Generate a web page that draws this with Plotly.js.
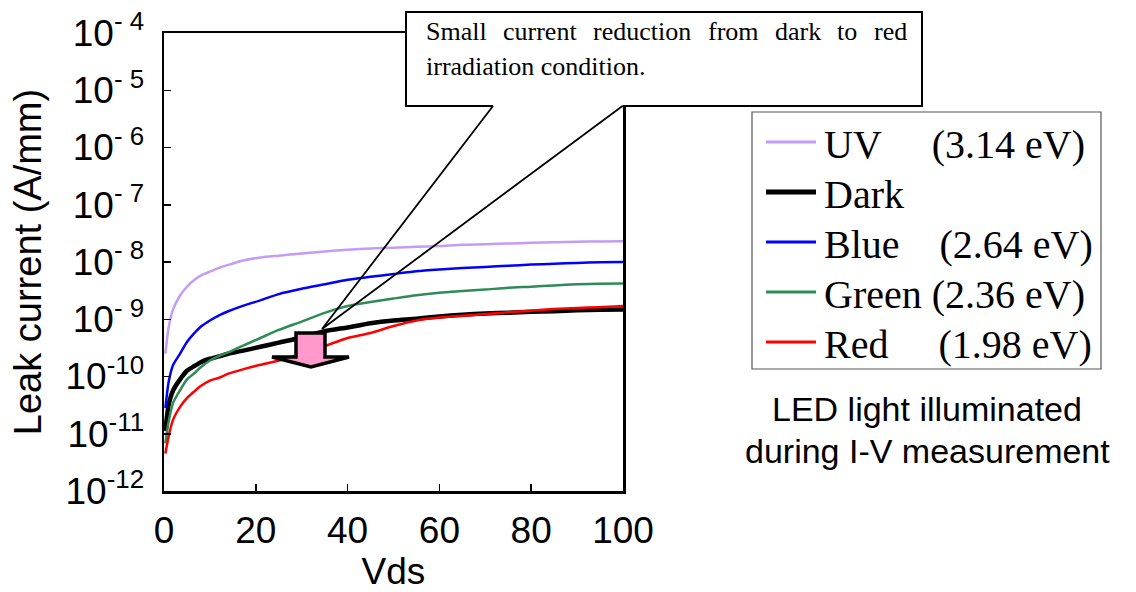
<!DOCTYPE html>
<html><head><meta charset="utf-8">
<script src="https://cdn.plot.ly/plotly-3.0.1.min.js"></script>
<style>html,body{margin:0;padding:0;background:#fff}</style>
</head><body><div id="chart" style="width:1136px;height:592px"></div>
<script>
// ---- data ----
const vds = [0.3, 1, 2, 3.5, 5, 6.5, 8, 10, 12, 14, 17, 21, 25, 30, 35, 40, 45, 50, 55, 60, 65, 70, 75, 80, 85, 90, 95, 100];
const uvCurrent = [2.5e-10, 7.1e-10, 1.5e-9, 2.6e-9, 3.7e-9, 4.8e-9, 5.8e-9, 6.8e-9, 7.9e-9, 8.9e-9, 1.05e-8, 1.2e-8, 1.29e-8, 1.41e-8, 1.53e-8, 1.64e-8, 1.72e-8, 1.78e-8, 1.84e-8, 1.9e-8, 2.0e-8, 2.04e-8, 2.11e-8, 2.16e-8, 2.21e-8, 2.26e-8, 2.29e-8, 2.3e-8];
const darkCurrent = [1.12e-11, 3.16e-11, 5.75e-11, 8.9e-11, 1.26e-10, 1.5e-10, 1.78e-10, 2.04e-10, 2.24e-10, 2.5e-10, 2.8e-10, 3.3e-10, 3.9e-10, 4.8e-10, 6.2e-10, 7.2e-10, 8.5e-10, 9.5e-10, 1.02e-9, 1.12e-9, 1.2e-9, 1.26e-9, 1.3e-9, 1.35e-9, 1.38e-9, 1.43e-9, 1.46e-9, 1.48e-9];
const blueCurrent = [2.8e-11, 7.9e-11, 1.6e-10, 2.5e-10, 4.0e-10, 5.6e-10, 7.4e-10, 9.5e-10, 1.17e-9, 1.38e-9, 1.7e-9, 2.14e-9, 2.75e-9, 3.4e-9, 4.07e-9, 4.9e-9, 5.5e-9, 6.17e-9, 6.9e-9, 7.4e-9, 7.85e-9, 8.2e-9, 8.6e-9, 9.0e-9, 9.3e-9, 9.65e-9, 9.9e-9, 1.0e-8];
const greenCurrent = [6.8e-12, 1.6e-11, 3.5e-11, 5.75e-11, 8.9e-11, 1.12e-10, 1.45e-10, 1.9e-10, 2.3e-10, 2.63e-10, 3.4e-10, 4.7e-10, 6.5e-10, 9.1e-10, 1.29e-9, 1.7e-9, 2.0e-9, 2.3e-9, 2.63e-9, 2.9e-9, 3.1e-9, 3.3e-9, 3.55e-9, 3.7e-9, 3.9e-9, 4.07e-9, 4.17e-9, 4.2e-9];
const redCurrent = [4.5e-12, 8.9e-12, 1.78e-11, 2.95e-11, 4.2e-11, 5.4e-11, 6.8e-11, 8.5e-11, 9.5e-11, 1.12e-10, 1.32e-10, 1.6e-10, 1.9e-10, 2.5e-10, 3.4e-10, 4.7e-10, 5.75e-10, 7.6e-10, 9.5e-10, 1.07e-9, 1.15e-9, 1.23e-9, 1.32e-9, 1.41e-9, 1.51e-9, 1.58e-9, 1.62e-9, 1.7e-9];

const seriesNames = ['UV', 'Dark', 'Blue', 'Green', 'Red'];
const seriesLabels = ['UV&nbsp;&nbsp;&nbsp;&nbsp;&nbsp;(3.14 eV)', 'Dark', 'Blue&nbsp;&nbsp;&nbsp;&nbsp;(2.64 eV)', 'Green&nbsp;(2.36 eV)', 'Red&nbsp;&nbsp;&nbsp;&nbsp;&nbsp;(1.98 eV)'];
const seriesValues = [uvCurrent, darkCurrent, blueCurrent, greenCurrent, redCurrent];
const seriesColors = ['#c49cf7', '#000000', '#0000ff', '#2e8b57', '#ff0000'];
const seriesWidths = [2.5, 4.5, 2.5, 2.5, 2.5];

const xTickVals = [0, 20, 40, 60, 80, 100];
const yTickVals = [1e-12, 1e-11, 1e-10, 1e-9, 1e-8, 1e-7, 1e-6, 1e-5, 1e-4];
const yTickText = ['10<sup>-12</sup>', '10<sup>-11</sup>', '10<sup>-10</sup>', '10<sup>- 9</sup>', '10<sup>- 8</sup>', '10<sup>- 7</sup>', '10<sup>- 6</sup>', '10<sup>- 5</sup>', '10<sup>- 4</sup>'];

const calloutWords = ['Small', 'current', 'reduction', 'from', 'dark', 'to', 'red'];
const calloutLine2 = 'irradiation condition.';
const sideNote = ['LED light illuminated', 'during I-V measurement'];

// ---- layout geometry ----
const W = 1136, H = 592;
const M = {l: 164, r: 513, t: 33, b: 101};
const PW = W - M.l - M.r, PH = H - M.t - M.b;
const px = v => (v - M.l) / PW;
const py = v => (H - M.b - v) / PH;

const traces = seriesNames.map((n, i) => ({
  type: 'scatter', mode: 'lines', name: n,
  x: vds, y: seriesValues[i],
  line: {color: seriesColors[i], width: seriesWidths[i], shape: 'spline', smoothing: 0.6},
  showlegend: false
}));

const shapes = [];
const annotations = [];

// callout box (white) with open bottom where the pointer starts
shapes.push({type: 'path', xref: 'paper', yref: 'paper', layer: 'above',
  path: `M${px(493)},${py(106)} L${px(406)},${py(106)} L${px(406)},${py(12)} L${px(922)},${py(12)} L${px(922)},${py(106)} L${px(622.5)},${py(106)}`,
  fillcolor: '#ffffff', line: {color: '#000', width: 2}});
shapes.push({type: 'path', xref: 'paper', yref: 'paper', layer: 'above',
  path: `M${px(493)},${py(106)} L${px(322)},${py(329)} L${px(622.5)},${py(106)}`,
  line: {color: '#000', width: 1.8}});
// pink down arrow
shapes.push({type: 'path', xref: 'paper', yref: 'paper', layer: 'above',
  path: `M${px(296)},${py(333)} L${px(325)},${py(333)} L${px(325)},${py(357)} L${px(349)},${py(357)} L${px(311)},${py(367)} L${px(272)},${py(357)} L${px(296)},${py(357)} Z`,
  fillcolor: '#ff99cc', line: {color: '#000', width: 3.5}});

// justified first line of callout text
const CF = 26;
const ctx = document.createElement('canvas').getContext('2d');
ctx.font = CF + 'px "Liberation Serif"';
const ww = calloutWords.map(w => ctx.measureText(w).width);
const startX = 425, endX = 906;
const gap = (endX - startX - ww.reduce((a, b) => a + b, 0)) / (calloutWords.length - 1);
let cx = startX;
calloutWords.forEach((w, i) => {
  annotations.push({xref: 'paper', yref: 'paper', x: px(cx), y: py(31), xanchor: 'left', yanchor: 'middle',
    text: w, showarrow: false, borderpad: 0, font: {family: 'Liberation Serif', size: CF, color: '#000'}});
  cx += ww[i] + gap;
});
annotations.push({xref: 'paper', yref: 'paper', x: px(425), y: py(66), xanchor: 'left', yanchor: 'middle',
  text: calloutLine2, showarrow: false, borderpad: 0, font: {family: 'Liberation Serif', size: CF, color: '#000'}});

// legend (built from the series arrays)
shapes.push({type: 'rect', xref: 'paper', yref: 'paper', x0: px(752), x1: px(1101), y0: py(112), y1: py(369),
  line: {color: '#555', width: 1.2}, fillcolor: 'rgba(0,0,0,0)'});
seriesNames.forEach((n, i) => {
  const yc = 142 + i * 50;
  shapes.push({type: 'line', xref: 'paper', yref: 'paper', x0: px(766), x1: px(816), y0: py(yc), y1: py(yc),
    line: {color: seriesColors[i], width: seriesWidths[i] + 0.5}});
  annotations.push({xref: 'paper', yref: 'paper', x: px(823), y: py(yc + 2), xanchor: 'left', yanchor: 'middle',
    text: seriesLabels[i], showarrow: false, borderpad: 0, font: {family: 'Liberation Serif', size: 40, color: '#000'}});
});

// side note
sideNote.forEach((t, i) => {
  annotations.push({xref: 'paper', yref: 'paper', x: px(927), y: py(409 + i * 42), xanchor: 'center', yanchor: 'middle',
    text: t, showarrow: false, borderpad: 0, font: {family: 'Liberation Sans', size: 34, color: '#000'}});
});

const axisCommon = {
  showline: true, linecolor: '#000', linewidth: 2.5, mirror: true,
  ticks: 'inside', ticklen: 7, tickwidth: 1.5, tickcolor: '#000',
  showgrid: false, zeroline: false,
  tickfont: {family: 'Liberation Sans', size: 37, color: '#000'}
};

const layout = {
  width: W, height: H, margin: M,
  paper_bgcolor: '#fff', plot_bgcolor: '#fff',
  showlegend: false,
  xaxis: Object.assign({}, axisCommon, {
    range: [0, 100], tickmode: 'array', tickvals: xTickVals, ticklabelstandoff: 5,
    title: {text: 'Vds', font: {family: 'Liberation Sans', size: 37, color: '#000'}, standoff: 3}
  }),
  yaxis: Object.assign({}, axisCommon, {
    type: 'log', range: [-12, -4], tickmode: 'array', tickvals: yTickVals, ticktext: yTickText, ticklabelstandoff: 10,
    title: {text: 'Leak current (A/mm)', font: {family: 'Liberation Sans', size: 38, color: '#000'}, standoff: 12}
  }),
  shapes: shapes,
  annotations: annotations
};

Plotly.newPlot('chart', traces, layout, {staticPlot: true, displayModeBar: false});
</script>
</body></html>
